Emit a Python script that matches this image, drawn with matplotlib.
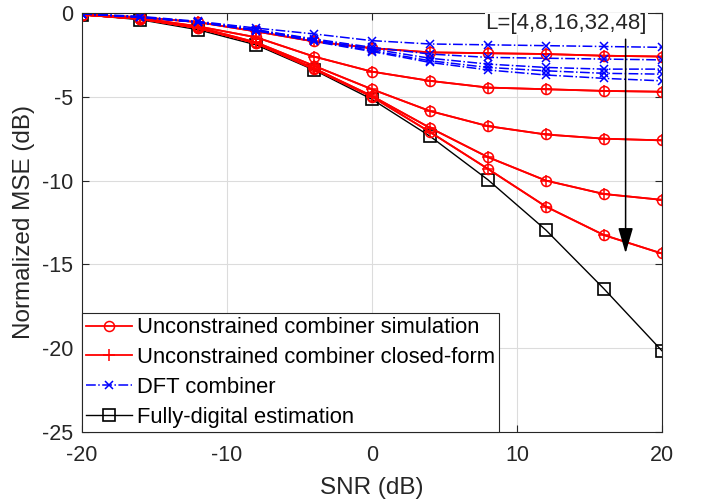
import matplotlib
matplotlib.use('Agg')
import matplotlib.pyplot as plt

plt.rcParams['font.family'] = ['Liberation Sans', 'DejaVu Sans']
plt.rcParams['axes.unicode_minus'] = False

snr = [-20, -16, -12, -8, -4, 0, 4, 8, 12, 16, 20]
L_values = [4, 8, 16, 32, 48]

# unconstrained combiner (simulation), one list per L
unc_L4 = [-0.1, -0.25, -0.55, -1.1, -1.7, -2.1, -2.35, -2.4, -2.45, -2.55, -2.6]
unc_L8 = [-0.1, -0.3, -0.8, -1.45, -2.6, -3.5, -4.05, -4.45, -4.55, -4.65, -4.7]
unc_L16 = [-0.1, -0.35, -0.85, -1.75, -3.15, -4.55, -5.85, -6.75, -7.25, -7.5, -7.6]
unc_L32 = [-0.1, -0.35, -0.9, -1.8, -3.3, -4.95, -6.85, -8.6, -10.0, -10.8, -11.15]
unc_L48 = [-0.1, -0.35, -0.9, -1.8, -3.35, -5.0, -7.1, -9.3, -11.55, -13.25, -14.35]

# closed-form sits on top of the simulation points
cf_L4 = unc_L4
cf_L8 = unc_L8
cf_L16 = unc_L16
cf_L32 = unc_L32
cf_L48 = unc_L48

# DFT combiner
dft_L4 = [-0.05, -0.2, -0.5, -0.9, -1.25, -1.65, -1.85, -1.9, -1.95, -2.0, -2.05]
dft_L8 = [-0.05, -0.25, -0.55, -1.0, -1.55, -2.05, -2.45, -2.65, -2.7, -2.75, -2.8]
dft_L16 = [-0.05, -0.25, -0.55, -1.0, -1.6, -2.15, -2.7, -3.05, -3.25, -3.35, -3.35]
dft_L32 = [-0.05, -0.25, -0.55, -1.05, -1.65, -2.25, -2.85, -3.25, -3.45, -3.6, -3.65]
dft_L48 = [-0.05, -0.25, -0.55, -1.05, -1.7, -2.3, -2.95, -3.4, -3.7, -3.9, -4.05]

# fully-digital estimation
full_digital = [-0.1, -0.4, -1.0, -1.9, -3.4, -5.15, -7.35, -9.95, -12.95, -16.45, -20.15]

unc_curves = [unc_L4, unc_L8, unc_L16, unc_L32, unc_L48]
cf_curves = [cf_L4, cf_L8, cf_L16, cf_L32, cf_L48]
dft_curves = [dft_L4, dft_L8, dft_L16, dft_L32, dft_L48]

fig = plt.figure(figsize=(7.02, 4.99), dpi=100)
ax = fig.add_axes([0.1168, 0.1343, 0.826, 0.8397])

fs = 15.5
dark = '#262626'

for i, y in enumerate(unc_curves):
    ax.plot(snr, y, color='red', lw=1.3, marker='o', ms=7.2, mfc='none', mew=1.1,
            label='Unconstrained combiner simulation' if i == 0 else None)
for i, y in enumerate(cf_curves):
    ax.plot(snr, y, color='red', lw=1.3, marker='+', ms=8, mew=1.1,
            label='Unconstrained combiner closed-form' if i == 0 else None)
for i, y in enumerate(dft_curves):
    ax.plot(snr, y, color='blue', lw=1.1, ls='-.', marker='x', ms=6, mew=1.1,
            label='DFT combiner' if i == 0 else None)
ax.plot(snr, full_digital, color='black', lw=1.0, marker='s', ms=8.5, mfc='none', mew=1.2,
        label='Fully-digital estimation', zorder=1.5)

ax.annotate('', xy=(17.5, -14.5), xytext=(17.5, -1.4),
            arrowprops=dict(arrowstyle='-|>,head_length=1.2,head_width=0.35', color='black',
                            lw=1.1, mutation_scale=13))
ax.text(13.4, -0.65, 'L=[%s]' % ','.join(str(v) for v in L_values), fontsize=16,
        ha='center', va='center', color=dark,
        bbox=dict(facecolor='white', edgecolor='none', pad=0.5))

ax.set_xlim(-20, 20)
ax.set_ylim(-25, 0)
ax.set_xticks([-20, -10, 0, 10, 20])
ax.set_yticks([-25, -20, -15, -10, -5, 0])
ax.grid(True, color='#dcdcdc', lw=0.8)
ax.set_axisbelow(True)
ax.tick_params(direction='in', top=True, right=True, labelsize=fs, colors=dark, length=5)
ax.tick_params(axis='x', pad=9.5)
ax.tick_params(axis='y', pad=6.5)
for s in ax.spines.values():
    s.set_color(dark)
    s.set_linewidth(0.8)

ax.set_xlabel('SNR (dB)', fontsize=17.5, color=dark, labelpad=8)
ax.set_ylabel('Normalized MSE (dB)', fontsize=17.5, color=dark, labelpad=5)

leg = ax.legend(loc='lower left', bbox_to_anchor=(0, 0), borderaxespad=0, fontsize=15.8,
                fancybox=False, framealpha=1, handlelength=2.1, labelspacing=0.4,
                handletextpad=0.2, borderpad=0.2)
leg.get_frame().set_edgecolor(dark)
leg.get_frame().set_linewidth(0.8)

fig.savefig('out.png', dpi=100)
